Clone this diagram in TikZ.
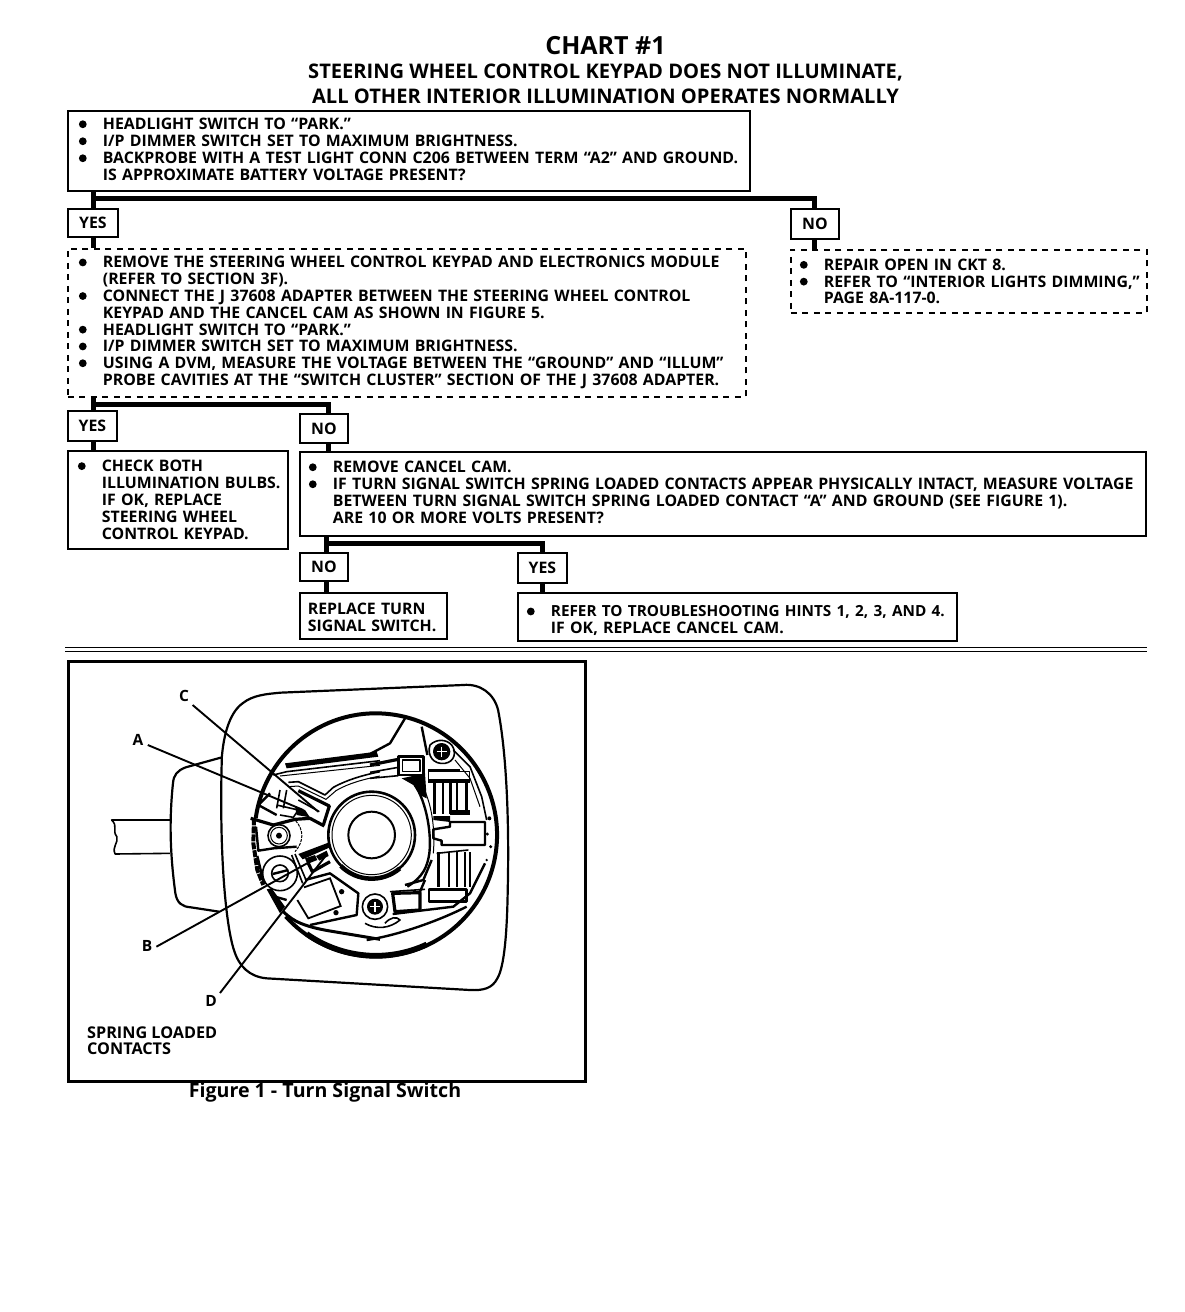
\documentclass[tikz,border=0pt]{standalone}
\usepackage{fontspec}
\setmainfont{Open Sans}[BoldFont={Open Sans Bold}]
\usetikzlibrary{calc}
\newcommand{\bul}{\llap{\raisebox{5.4pt}{\tikz[baseline]\fill (0,0) circle (3.9pt);}\hspace{16.2pt}}}
\newcommand{\dpx}[1]{\rule[-#1pt]{0pt}{0pt}}
\newcommand{\hgx}[1]{\rule{0pt}{#1pt}}
\tikzset{
  x=1pt,y=-1pt,
  box/.style={draw,line width=1.8pt,anchor=north west,inner ysep=0pt,inner xsep=0pt,align=left,
     font=\bfseries\fontsize{15.85}{17}\selectfont},
  dbox/.style={box,dash pattern=on 6pt off 5.5pt,font=\bfseries\fontsize{15.85}{16.8}\selectfont},
  ans/.style={box,align=center},
  conn/.style={line width=5pt},
  flab/.style={font=\bfseries\fontsize{15.5}{17}\selectfont,inner sep=0pt},
  leader/.style={line width=1.9pt},
  t1/.style={line width=1pt,line join=round},
  t2/.style={line width=1.6pt,line join=round},
  t3/.style={line width=2.4pt,line join=round},
  t4/.style={line width=3.2pt,line join=round},
  zoomed/.style={shift={#1},x=0.33333pt,y=-0.33333pt},
}
\begin{document}
\begin{tikzpicture}
\useasboundingbox (0,0) rectangle (1184,1312);
% titles
\node[font=\bfseries\fontsize{25}{28}\selectfont,inner sep=0pt] (title) at (605.5,45.5) {CHART \#1};
\node[font=\bfseries\fontsize{20.1}{25.4}\selectfont,inner sep=0pt,align=center] (sub) at (605.5,84)
  {STEERING WHEEL CONTROL KEYPAD DOES NOT ILLUMINATE,\\ALL OTHER INTERIOR ILLUMINATION OPERATES NORMALLY};
% decision boxes
\node[box,minimum width=682pt,minimum height=80pt,text width=682pt] (b1) at (67,110)
  {\hspace*{35pt}\bul HEADLIGHT SWITCH TO “PARK.”\\
   \hspace*{35pt}\bul I/P DIMMER SWITCH SET TO MAXIMUM BRIGHTNESS.\\
   \hspace*{35pt}\bul BACKPROBE WITH A TEST LIGHT CONN C206 BETWEEN TERM “A2” AND GROUND.\\
   \hspace*{35pt}IS APPROXIMATE BATTERY VOLTAGE PRESENT?\dpx{3}};
\node[ans,minimum width=50pt,minimum height=28pt] (yes1) at (67,208) {YES};
\node[ans,minimum width=48pt,minimum height=30pt] (no1) at (790,208) {NO};
\node[dbox,minimum width=678pt,minimum height=148pt,text width=678pt] (b2) at (67,248)
  {\hspace*{35pt}\bul REMOVE THE STEERING WHEEL CONTROL KEYPAD AND ELECTRONICS MODULE\\
   \hspace*{35pt}(REFER TO SECTION 3F).\\
   \hspace*{35pt}\bul CONNECT THE J 37608 ADAPTER BETWEEN THE STEERING WHEEL CONTROL\\
   \hspace*{35pt}KEYPAD  AND THE CANCEL CAM AS SHOWN IN FIGURE 5.\\
   \hspace*{35pt}\bul HEADLIGHT SWITCH TO “PARK.”\\
   \hspace*{35pt}\bul I/P DIMMER SWITCH SET TO MAXIMUM BRIGHTNESS.\\
   \hspace*{35pt}\bul USING A DVM, MEASURE THE VOLTAGE BETWEEN THE “GROUND” AND “ILLUM”\\
   \hspace*{35pt}PROBE CAVITIES AT THE “SWITCH CLUSTER” SECTION OF THE J 37608 ADAPTER.\dpx{4}};
\node[dbox,minimum width=356pt,minimum height=63pt,text width=356pt] (b3) at (790,249)
  {\hspace*{33pt}\bul REPAIR OPEN IN CKT 8.\\
   \hspace*{33pt}\bul REFER TO “INTERIOR LIGHTS DIMMING,”\\
   \hspace*{33pt}PAGE 8A-117-0.};
\node[ans,minimum width=49pt,minimum height=30pt] (yes2) at (67,410) {YES};
\node[ans,minimum width=48pt,minimum height=29pt] (no2) at (299,413) {NO};
\node[box,minimum width=220pt,minimum height=98pt,text width=220pt] (b4) at (67,450)
  {\hspace*{34pt}\bul CHECK BOTH\\
   \hspace*{34pt}ILLUMINATION BULBS.\\
   \hspace*{34pt}IF OK, REPLACE\\
   \hspace*{34pt}STEERING WHEEL\\
   \hspace*{34pt}CONTROL KEYPAD.};
\node[box,minimum width=846pt,minimum height=84pt,text width=846pt] (b5) at (299,451)
  {\hspace*{33pt}\bul REMOVE CANCEL CAM.\\
   \hspace*{33pt}\bul IF TURN SIGNAL SWITCH SPRING LOADED CONTACTS APPEAR PHYSICALLY INTACT, MEASURE VOLTAGE\\
   \hspace*{33pt}BETWEEN TURN SIGNAL SWITCH SPRING LOADED CONTACT “A” AND GROUND (SEE FIGURE 1).\\
   \hspace*{33pt}ARE 10 OR MORE VOLTS PRESENT?\dpx{3}};
\node[ans,minimum width=48pt,minimum height=28pt] (no3) at (299,552) {NO};
\node[ans,minimum width=49pt,minimum height=30pt] (yes3) at (517,552) {YES};
\node[box,minimum width=147pt,minimum height=46pt,text width=147pt] (b6) at (299,592)
  {\hgx{14}\hspace*{8pt}REPLACE TURN\\\hspace*{8pt}SIGNAL SWITCH.};
\node[box,minimum width=439pt,minimum height=48pt,text width=439pt] (b7) at (517,592)
  {\hgx{19}\hspace*{33pt}\bul \mbox{\fontsize{15.3}{17}\selectfont REFER TO TROUBLESHOOTING HINTS 1, 2, 3, AND 4.}\\
   \hspace*{33pt}IF OK, REPLACE CANCEL CAM.};
% connectors
\coordinate (j1) at (93,198);
\coordinate (j2) at (93,404);
\coordinate (j2n) at (328,404);
\coordinate (j3) at (326,543);
\draw[conn] (b1.south -| j1) -- (yes1.north -| j1);
\draw[conn] (j1) -| (no1.north);
\draw[conn] (yes1.south -| j1) -- (b2.north -| j1);
\draw[conn] (no1.south) -- (b3.north -| no1.south);
\draw[conn] (b2.south -| j2) -- (yes2.north -| j2);
\draw[conn] (j2) -- (j2n) -- (no2.north -| j2n);
\draw[conn] (yes2.south -| j2) -- (b4.north -| j2);
\draw[conn] (no2.south -| j2n) -- (b5.north -| j2n);
\draw[conn] (b5.south -| j3) -- (no3.north -| j3);
\draw[conn] (j3) -| (yes3.north);
\draw[conn] (no3.south -| j3) -- (b6.north -| j3);
\draw[conn] (yes3.south) -- (b7.north -| yes3.south);
% separator
\coordinate (sl) at (65,647.5); \coordinate (sr) at (1147,647.5);
\coordinate (sl2) at (65,651); \coordinate (sr2) at (1147,651);
\draw[line width=1.6pt] (sl) -- (sr);
\draw[line width=1pt] (sl2) -- (sr2);
% figure frame
\node[draw,line width=3.2pt,anchor=north west,minimum width=517pt,minimum height=420pt,inner sep=0pt] (frame) at (67,660) {};
% plate, lever, rim
\begin{scope}[shift={(60,650)},x=0.3444pt,y=-0.33333pt]
  \draw[line width=2.2pt] (470,320) .. controls (475,260) and (490,190) .. (530,160) .. controls (560,135) and (600,132) .. (640,128) -- (1170,105) .. controls (1220,100) and (1260,130) .. (1272,180) .. controls (1295,300) and (1305,500) .. (1300,720) .. controls (1298,850) and (1290,950) .. (1270,985) .. controls (1255,1015) and (1230,1022) .. (1190,1020) -- (600,985) .. controls (550,980) and (520,950) .. (505,900) .. controls (480,820) and (462,600) .. (470,320);
  \draw[line width=2.2pt] (470,322) -- (365,352) .. controls (340,362) and (330,375) .. (328,400) .. controls (318,500) and (318,600) .. (335,730) .. controls (340,760) and (355,770) .. (380,772) -- (462,785);
  \draw[t2] (320,510) -- (150,510) .. controls (170,530) and (150,540) .. (165,560) .. controls (170,580) and (150,590) .. (160,612) -- (320,610);
  \draw[line width=4pt] (917,555) ++(188:352 and 365) arc[start angle=188,end angle=498,x radius=352,y radius=365];
  \draw[line width=5.5pt] (917,555) ++(65:350 and 362) arc[start angle=65,end angle=125,x radius=350,y radius=362];
\end{scope}
% centre and left (traced, origin 230,730)
\begin{scope}[zoomed={(230,730)}]
  \draw[line width=4pt,dash pattern=on 7pt off 1pt] (72,265) -- (70,340) -- (82,420) -- (100,465);
  \fill (165,100) -- (440,65) -- (445,80) -- (170,115) -- cycle;
  \draw[t2] (130,135) -- (170,125) -- (450,92);
  \draw[t1] (150,138) -- (450,106);
  \draw[t2] (175,157) -- (205,155) -- (285,195) -- (310,172) .. controls (350,150) and (400,135) .. (450,125);
  \draw[t1] (175,170) -- (205,168) -- (288,208) -- (318,182) .. controls (355,160) and (400,148) .. (450,138);
  % disc
  \draw[line width=2.6pt] (425,315) circle (130);
  \draw[t1] (425,315) circle (119);
  \draw[line width=2pt] (425,315) circle (70);
  \draw[line width=4.5pt] (425,315) ++(50:131) arc[start angle=50,end angle=135,radius=131];
  % contact A
  \draw[t4] (205,182) -- (298,228) -- (280,285);
  \draw[t2] (205,210) -- (268,245);
  \draw[t3] (120,190) -- (85,225) -- (140,255);
  \draw[t2] (150,180) -- (140,235) (170,180) -- (160,235);
  \draw[t2] (140,225) -- (205,240) -- (190,262) -- (150,255);
  \fill (195,230) -- (225,240) -- (240,262) -- (200,255) -- cycle;
  \draw[t4] (62,265) -- (130,285) -- (195,268) -- (240,265) -- (283,288);
  % screw 1
  \draw[t3] (78,290) -- (85,362) -- (130,355) -- (200,350);
  \draw[t2] (147,317) circle (33);
  \draw[t1] (147,317) circle (25);
  \fill (147,317) circle (9);
  \draw[t1,dash pattern=on 3pt off 1pt] (197,272) .. controls (222,300) and (222,335) .. (195,365);
  % contact B
  \fill (205,372) -- (295,338) -- (300,352) -- (218,388) -- cycle;
  \fill (225,385) -- (255,375) -- (262,390) -- (232,402) -- cycle;
  \draw[t4] (300,395) -- (247,425) -- (235,400);
  \fill (258,378) -- (290,362) -- (296,378) -- (268,392) -- cycle;
  % screw 4
  \draw[t3] (82,378) -- (102,462);
  \draw[t2] (150,430) circle (52);
  \draw[t2] (150,430) circle (25);
  \draw[t3] (128,432) -- (175,420);
  \draw[t2] (185,375) -- (218,460) (195,372) -- (228,450);
  % block
  \draw[line width=1.8pt] (222,472) -- (300,445) -- (332,528) -- (235,565) -- (202,510);
  \fill (335,485) circle (8) (318,548) circle (8);
  \draw[t3] (225,450) -- (300,430) -- (385,490) -- (380,555) -- (240,585);
  \fill (110,478) -- (125,475) -- (165,530) -- (150,550) -- cycle;
  \draw[t3] (135,500) -- (170,510);
  \draw[line width=3pt] (160,545) .. controls (190,575) and (225,590) .. (300,603) -- (450,628);
\end{scope}
% right side (traced, origin 370,710)
\begin{scope}[zoomed={(370,710)}]
  \draw[t3] (105,25) -- (60,100) -- (0,132);
  \draw[t3] (155,50) -- (172,135);
  \draw[t4] (0,165) -- (85,148);
  \draw[t2] (0,187) -- (85,172);
  \draw[t3] (85,140) rectangle (160,195);
  \draw[t2] (97,150) rectangle (150,185);
  \draw[t2] (0,205) -- (85,197);
  % right ring of disc
  \draw[t3] (135,225) .. controls (170,280) and (185,370) .. (178,430) .. controls (172,470) and (160,500) .. (112,530);
  \draw[t1] (150,215) .. controls (190,280) and (195,370) .. (190,430);
  \fill (95,205) -- (165,190) -- (170,265) -- (150,255) -- (130,225) -- cycle;
  % screw 3
  \fill (215,125) circle (26);
  \draw[line width=1.4pt,white] (200,125) -- (230,125) (215,110) -- (215,140);
  \draw[t2] (180,105) .. controls (170,135) and (190,165) .. (225,160) .. controls (255,155) and (260,125) .. (245,105) .. controls (230,88) and (200,85) .. (180,105);
  \draw[t2] (250,120) -- (300,170) -- (335,260) -- (350,330);
  \draw[t1] (255,150) -- (300,205) -- (330,290);
  % upper hatch
  \draw[t2] (175,185) rectangle (298,210);
  \fill (175,178) rectangle (270,186);
  \foreach \x/\w in {193/7,218/7,241/7,261/7,290/10}{\fill (\x-\w/2,218) rectangle (\x+\w/2,312);}
  \fill (175,210) rectangle (300,220);
  \fill (190,318) -- (240,318) -- (240,336) -- (190,330) -- cycle;
  \fill (240,300) rectangle (300,315);
  % centre bar
  \draw[t3] (190,358) -- (240,350) -- (240,336) -- (345,336) -- (345,405) -- (215,405) -- (215,392) -- (190,385) -- cycle;
  % rim dots
  \fill (358,325) circle (6) (352,372) circle (5) (362,410) circle (5) (350,450) circle (4);
  % lower hatch
  \draw[t2] (200,430) -- (295,420);
  \foreach \x/\w in {205/10,238/6,262/6,285/8,300/6}{\fill (\x-\w/2,425) rectangle (\x+\w/2,532);}
  \draw[t3] (177,538) rectangle (290,575);
  % lower left
  \draw[t3] (105,525) -- (160,510) -- (185,450);
  \draw[t3] (150,545) -- (165,510);
  \draw[t4] (68,550) -- (150,548) -- (150,600) -- (75,605) -- cycle;
  \draw[t2] (60,545) -- (165,538);
  \draw[t3] (68,612) -- (250,590) -- (300,550) -- (345,460);
  % screw 2
  \fill (15,590) circle (24);
  \draw[line width=1.4pt,white] (0,590) -- (30,590) (15,575) -- (15,605);
  \draw[t2] (15,590) circle (38);
  \draw[t2] (-15,640) .. controls (20,660) and (60,655) .. (90,630) .. controls (80,618) and (60,622) .. (45,640);
  \draw[t3] (-10,690) .. controls (60,680) and (180,645) .. (290,590);
\end{scope}
% leaders
\coordinate (la) at (147.8,745); \coordinate (lb) at (156.4,946.7);
\coordinate (lc) at (192.6,705); \coordinate (ld) at (220,993);
\coordinate (ta) at (303.3,810); \coordinate (tb) at (310,861.7);
\coordinate (tc) at (318.3,811.7); \coordinate (td) at (325,856.7);
\draw[leader] (la) -- (ta);
\draw[leader] (lb) -- (tb);
\draw[leader] (lc) -- (tc);
\draw[leader] (ld) -- (td);
\node[flab] (la1) at (138,740) {A};
\node[flab] (lb1) at (147,946) {B};
\node[flab] (lc1) at (184,696) {C};
\node[flab] (ld1) at (211,1001) {D};
\node[flab,anchor=north west,align=left,font=\bfseries\fontsize{16.2}{16}\selectfont] (spring) at (87,1027) {SPRING LOADED\\CONTACTS};
\node[inner sep=0pt,font=\bfseries\fontsize{19.6}{22}\selectfont] (cap) at (325,1092.5) {Figure 1 - Turn Signal Switch};
\end{tikzpicture}
\end{document}
